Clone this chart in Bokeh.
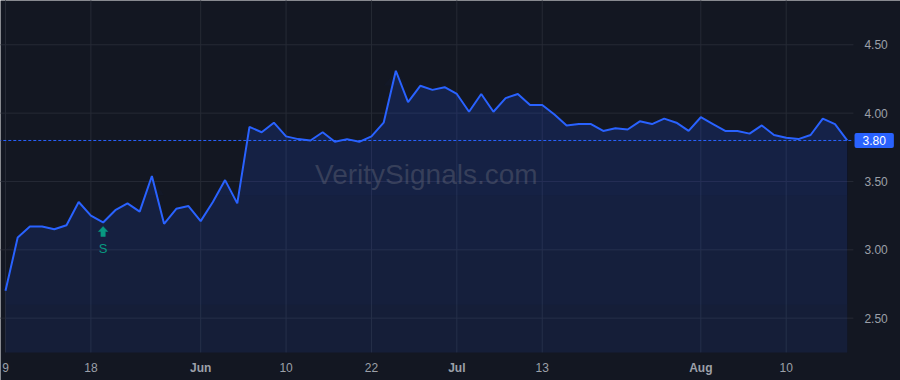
import numpy as np
from bokeh.plotting import figure
from bokeh.models import ColumnDataSource, Range1d
from bokeh.core.properties import value
from bokeh.embed import file_html
from bokeh.resources import INLINE

# ---- data ----
prices = [2.70, 3.09, 3.17, 3.17, 3.15, 3.18, 3.35, 3.25, 3.20, 3.29,
          3.34, 3.28, 3.54, 3.19, 3.30, 3.32, 3.21, 3.35, 3.51, 3.34,
          3.90, 3.86, 3.93, 3.83, 3.81, 3.80, 3.86, 3.79, 3.81, 3.79,
          3.83, 3.93, 4.31, 4.08, 4.20, 4.17, 4.19, 4.14, 4.01, 4.14,
          4.01, 4.11, 4.14, 4.06, 4.06, 3.99, 3.91, 3.92, 3.92, 3.87,
          3.89, 3.88, 3.94, 3.92, 3.96, 3.93, 3.87, 3.97, 3.92, 3.87,
          3.87, 3.85, 3.91, 3.84, 3.82, 3.81, 3.84, 3.96, 3.92, 3.80]
bar_index = list(range(len(prices)))

x_tick_pos = [0, 7, 16, 23, 30, 37, 44, 57, 64]
x_tick_labels = ["9", "18", "Jun", "10", "22", "Jul", "13", "Aug", "10"]
month_ticks = {"Jun", "Jul", "Aug"}
y_ticks = [2.5, 3.0, 3.5, 4.0, 4.5]
y_tick_labels = ["2.50", "3.00", "3.50", "4.00", "4.50"]

last_price = 3.80
signal_index = 8
signal_text = "S"
watermark = "VeritySignals.com"

# ---- style / layout ----
BG = "#131722"
GRID = "#262a35"
LINE = "#2962ff"
TEXT = "#9ca0a9"
SIG = "#089981"
FONT = "Liberation Sans"

W, H = 900, 380
X_START, X_END = -0.41, 73.37      # whole canvas width
Y_START, Y_END = 2.044, 4.824      # whole canvas height
PANE_RIGHT = 69.51                 # right edge of the price pane
PANE_BOTTOM = 2.249                # bottom edge of the price pane
YLAB_X = 70.41                     # x of the price-scale labels
TAG_X = 69.6                       # left edge of the last-price tag
XLAB_Y = 2.139                     # y of the time-scale labels
PX_X = (X_END - X_START) / W       # data units per pixel
PX_Y = (Y_END - Y_START) / H

p = figure(width=W, height=H, output_backend="svg", toolbar_location=None,
           x_range=Range1d(X_START, X_END), y_range=Range1d(Y_START, Y_END),
           min_border=0)
p.background_fill_color = BG
p.border_fill_color = BG
p.outline_line_color = None
p.xaxis.visible = False
p.yaxis.visible = False
p.grid.visible = False

# grid
p.segment(x0=x_tick_pos, x1=x_tick_pos, y0=PANE_BOTTOM, y1=Y_END + 1,
          line_color=GRID, line_width=1)
p.segment(x0=[X_START - 1] * len(y_ticks), x1=[PANE_RIGHT] * len(y_ticks),
          y0=y_ticks, y1=y_ticks, line_color=GRID, line_width=1)

src = ColumnDataSource(dict(x=bar_index, y=prices))
arr = np.array(prices)

# area fill with a soft vertical gradient (stacked translucent layers)
p.varea(x=bar_index, y1=PANE_BOTTOM, y2=prices, fill_color=LINE, fill_alpha=0.10)
for lvl in [2.6, 3.0, 3.4, 3.8, 4.2]:
    p.varea(x=bar_index, y1=lvl, y2=np.maximum(arr, lvl),
            fill_color=LINE, fill_alpha=0.022)

# watermark
p.text(x=[(bar_index[0] + bar_index[-1]) / 2], y=[3.55], text=[watermark],
       text_align="center", text_baseline="middle",
       text_font=value(FONT), text_font_size="28px",
       text_color="#787b86", text_alpha=0.35)

p.line("x", "y", source=src, line_color=LINE, line_width=2)

# last price dotted line
p.segment(x0=[X_START - 1], x1=[PANE_RIGHT], y0=[last_price], y1=[last_price],
          line_color=LINE, line_width=1, line_dash="3 2")

# price scale labels
p.text(x=[YLAB_X] * len(y_ticks), y=y_ticks, text=y_tick_labels,
       text_align="left", text_baseline="middle", text_color=TEXT,
       text_font=value(FONT), text_font_size="12px")

# time scale labels
norm = [(t, l) for t, l in zip(x_tick_pos, x_tick_labels) if l not in month_ticks]
mon = [(t, l) for t, l in zip(x_tick_pos, x_tick_labels) if l in month_ticks]
p.text(x=[t for t, _ in norm], y=[XLAB_Y] * len(norm), text=[l for _, l in norm],
       text_align="center", text_baseline="middle", text_color=TEXT,
       text_font=value(FONT), text_font_size="12px")
p.text(x=[t for t, _ in mon], y=[XLAB_Y] * len(mon), text=[l for _, l in mon],
       text_align="center", text_baseline="middle", text_color=TEXT,
       text_font=value(FONT), text_font_size="12px", text_font_style="bold")

# last price tag
p.text(x=[TAG_X], y=[last_price], text=[f"{last_price:.2f}"],
       text_align="left", text_baseline="middle", text_color="white",
       text_font=value(FONT), text_font_size="12px",
       background_fill_color=LINE,
       padding=dict(left=8, right=8, top=3, bottom=3),
       border_radius=2)

# signal marker: block up-arrow below the bar, then the letter
sx = bar_index[signal_index]
sy = prices[signal_index]
arrow_dx = [0, 4.7, 2.2, 2.2, -2.2, -2.2, -4.7]      # pixels
arrow_dy = [-4, -9, -9, -14, -14, -9, -9]             # pixels
p.patch(x=[sx + d * PX_X for d in arrow_dx],
        y=[sy + d * PX_Y for d in arrow_dy],
        fill_color=SIG, line_color=SIG, line_width=0.5)
p.text(x=[sx], y=[sy], text=[signal_text], text_align="center",
       text_baseline="alphabetic", y_offset=26, text_font=value(FONT),
       text_font_size="13px", text_color=SIG)

open("out.html", "w").write(file_html(p, INLINE))
